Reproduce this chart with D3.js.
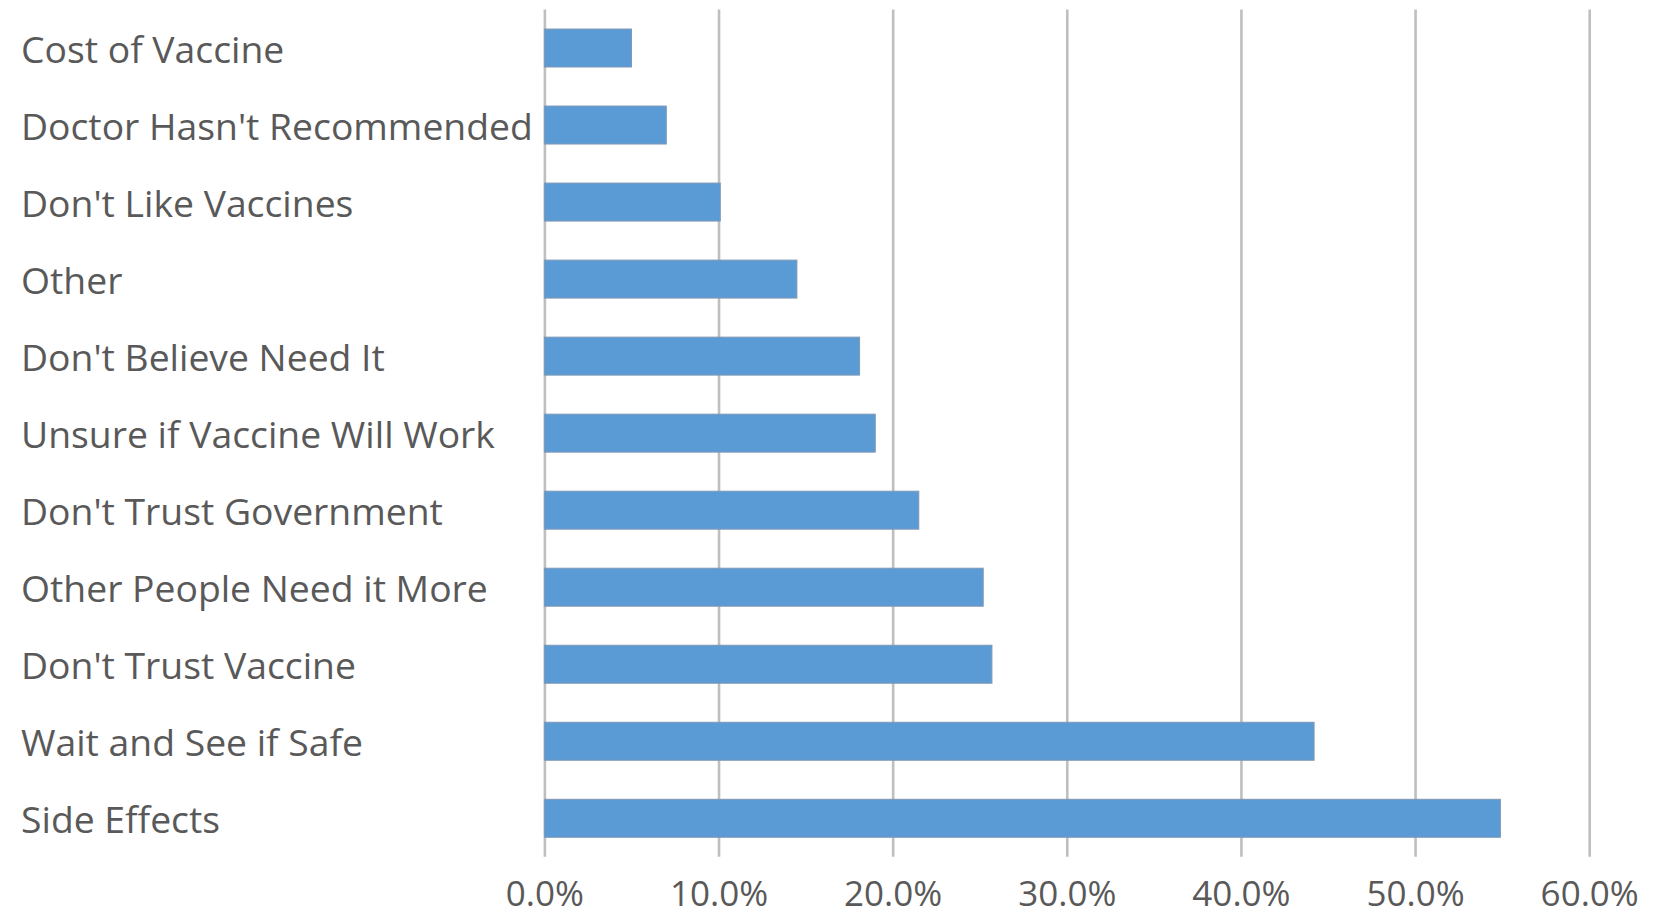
<!DOCTYPE html>
<html>
<head>
<meta charset="utf-8">
<script src="https://cdn.jsdelivr.net/npm/d3@7"></script>
<style>
  html, body { margin: 0; padding: 0; background: #ffffff; }
  svg { display: block; }
  text { font-family: "Open Sans", "Noto Sans", sans-serif; fill: #595959; }
</style>
</head>
<body>
<svg id="chart" width="1661" height="917"></svg>
<script>
const categories = [
  "Cost of Vaccine",
  "Doctor Hasn't Recommended",
  "Don't Like Vaccines",
  "Other",
  "Don't Believe Need It",
  "Unsure if Vaccine Will Work",
  "Don't Trust Government",
  "Other People Need it More",
  "Don't Trust Vaccine",
  "Wait and See if Safe",
  "Side Effects"
];
const values = [0.050, 0.070, 0.101, 0.145, 0.181, 0.190, 0.215, 0.252, 0.257, 0.442, 0.549];
const tickValues = [0, 0.1, 0.2, 0.3, 0.4, 0.5, 0.6];
const tickLabels = ["0.0%", "10.0%", "20.0%", "30.0%", "40.0%", "50.0%", "60.0%"];

const svg = d3.select("#chart");
const plot = { left: 544.4, right: 1589.2, top: 9.5, bottom: 856.8 };

const x = d3.scaleLinear().domain([0, 0.6]).range([plot.left, plot.right]);
const y = d3.scaleBand().domain(categories).range([plot.top, plot.bottom])
  .paddingInner(0.507).paddingOuter(0.2535);

// Gridlines (including the 0 axis line)
const xAxis = d3.axisBottom(x).tickValues(tickValues)
  .tickSize(-(plot.bottom - plot.top))
  .tickFormat((d, i) => tickLabels[i]);
const gx = svg.append("g").attr("transform", `translate(0,${plot.bottom})`).call(xAxis);
gx.select(".domain").remove();
gx.selectAll(".tick line").attr("stroke", "#bfbfbf").attr("stroke-width", 2.6);
gx.selectAll(".tick text")
  .attr("y", 49).attr("dy", null)
  .style("font-size", "35px").style("fill", "#595959")
  .attr("font-family", null);

// Bars
svg.append("g").selectAll("rect").data(categories).join("rect")
  .attr("x", x(0))
  .attr("y", d => y(d))
  .attr("width", (d, i) => x(values[i]) - x(0))
  .attr("height", y.bandwidth())
  .attr("fill", "#5b9bd5")
  .attr("stroke", "#7f98b5")
  .attr("stroke-width", 1);

// Category labels (left aligned)
const yAxis = d3.axisLeft(y).tickSize(0);
const gy = svg.append("g").attr("transform", `translate(${plot.left},0)`).call(yAxis);
gy.select(".domain").remove();
gy.selectAll(".tick text")
  .attr("x", 21 - plot.left)
  .attr("text-anchor", "start")
  .attr("dy", "0.4em")
  .style("font-size", "37.3px").style("fill", "#595959")
  .attr("font-family", null);
</script>
</body>
</html>
